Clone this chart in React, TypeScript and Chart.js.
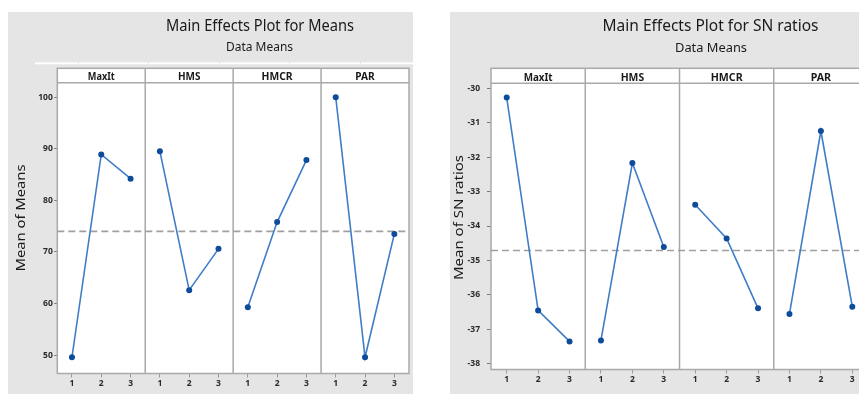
import React, { useEffect, useRef } from "react";
import { Chart, registerables } from "chart.js";

Chart.register(...registerables);

// ---------------- data ----------------
const factors = ["MaxIt", "HMS", "HMCR", "PAR"];
const levels = ["1", "2", "3"];

const meansMaxIt = [49.6, 88.9, 84.2];
const meansHMS = [89.5, 62.6, 70.6];
const meansHMCR = [59.3, 75.8, 87.8];
const meansPAR = [100.0, 49.6, 73.5];
const meansGrand = 74.0;
const meansTicks = [50, 60, 70, 80, 90, 100];

const snMaxIt = [-30.27, -36.45, -37.35];
const snHMS = [-37.32, -32.17, -34.61];
const snHMCR = [-33.38, -34.36, -36.39];
const snPAR = [-36.55, -31.24, -36.34];
const snGrand = -34.71;
const snTicks = [-38, -37, -36, -35, -34, -33, -32, -31, -30];

// ---------------- style ----------------
const LINE = "#3f7dc8";
const DOT = "#0d4b9b";
const FRAME = "#a9a9a9";
const DASH = "#a0a0a0";
const TEXT = "#1a1a1a";
const BG = "#e5e5e5";
const FONT = "'Noto Sans', 'Open Sans', sans-serif";

function fitText(
  ctx: CanvasRenderingContext2D,
  text: string,
  cx: number,
  cy: number,
  font: string,
  width: number,
  rotate = false
) {
  ctx.save();
  ctx.font = font;
  const w = ctx.measureText(text).width || 1;
  ctx.translate(cx, cy);
  if (rotate) ctx.rotate(-Math.PI / 2);
  ctx.scale(width / w, 1);
  ctx.textAlign = "center";
  ctx.textBaseline = "alphabetic";
  ctx.fillStyle = TEXT;
  ctx.fillText(text, 0, 0);
  ctx.restore();
}

const decorPlugin = {
  id: "decor",
  beforeDraw(chart: any, _args: any, o: any) {
    const { ctx, chartArea: a } = chart;
    ctx.save();
    if (o.topLine) {
      ctx.fillStyle = "#ffffff";
      const segs = o.topLine as number[][];
      segs.forEach(([x0, x1]) => ctx.fillRect(x0, o.topLineY, x1 - x0, 2));
    }
    ctx.fillStyle = "#ffffff";
    ctx.fillRect(a.left, o.headerTop, a.right - a.left, a.bottom - o.headerTop);
    ctx.restore();
  },
  beforeDatasetsDraw(chart: any, _args: any, o: any) {
    const { ctx, chartArea: a, scales } = chart;
    const x = scales.x;
    ctx.save();
    ctx.strokeStyle = FRAME;
    ctx.lineWidth = 1.5;
    ctx.strokeRect(a.left, o.headerTop, a.right - a.left, a.bottom - o.headerTop);
    ctx.beginPath();
    ctx.moveTo(a.left, a.top);
    ctx.lineTo(a.right, a.top);
    for (let k = 1; k < factors.length; k++) {
      const px = x.getPixelForValue(k * levels.length);
      ctx.moveTo(px, o.headerTop);
      ctx.lineTo(px, a.bottom);
    }
    ctx.stroke();
    ctx.restore();
    factors.forEach((f, p) => {
      const cx = x.getPixelForValue(p * levels.length + levels.length / 2);
      fitText(ctx, f, cx, o.headerBase, `bold 10.5px ${FONT}`, o.headerW[p]);
    });
    fitText(ctx, o.title, o.titleX, o.titleBase, `16px ${FONT}`, o.titleW);
    fitText(ctx, o.subtitle, o.subX, o.subBase, `12px ${FONT}`, o.subW);
    fitText(ctx, o.yTitle, o.yTitleX, o.yTitleY, `13px ${FONT}`, o.yTitleW, true);
  },
};

type Cfg = {
  left: number;
  top: number;
  width: number;
  height: number;
  series: number[][];
  grand: number;
  ticks: number[];
  yMin: number;
  yMax: number;
  yAxisWidth: number;
  xAxisHeight: number;
  padRight: number;
  padTop: number;
  tickLen: number;
  tickPad: number;
  decor: any;
};

function MainEffects({ cfg }: { cfg: Cfg }) {
  const ref = useRef<HTMLCanvasElement | null>(null);
  useEffect(() => {
    if (!ref.current) return;
    const n = levels.length;
    const xTicks = factors.flatMap((_, p) => levels.map((_, i) => p * n + i + 0.5));
    const datasets: any[] = cfg.series.map((vals, p) => ({
      data: vals.map((v, i) => ({ x: p * n + i + 0.5, y: v })),
      borderColor: LINE,
      borderWidth: 1.6,
      pointRadius: 3,
      pointBackgroundColor: DOT,
      pointBorderColor: DOT,
      pointBorderWidth: 0,
      tension: 0,
      order: 0,
    }));
    datasets.push({
      data: [
        { x: 0, y: cfg.grand },
        { x: factors.length * n, y: cfg.grand },
      ],
      borderColor: DASH,
      borderWidth: 1.6,
      borderDash: [7, 4],
      pointRadius: 0,
      order: 10,
    });
    const tickFont = { family: FONT, size: 8.5, weight: "bold" as const };
    const chart = new Chart(ref.current, {
      type: "line",
      data: { datasets },
      plugins: [decorPlugin as any],
      options: {
        animation: false,
        responsive: false,
        maintainAspectRatio: false,
        events: [],
        layout: { padding: { left: 0, right: cfg.padRight, top: cfg.padTop, bottom: 0 } },
        plugins: {
          legend: { display: false },
          title: { display: false },
          tooltip: { enabled: false },
          decor: cfg.decor,
        } as any,
        scales: {
          x: {
            type: "linear",
            min: 0,
            max: factors.length * n,
            afterBuildTicks: (s: any) => {
              s.ticks = xTicks.map((v) => ({ value: v }));
            },
            afterFit: (s: any) => {
              s.height = cfg.xAxisHeight;
            },
            ticks: {
              autoSkip: false,
              maxRotation: 0,
              padding: 1,
              color: "#2a2a2a",
              font: tickFont,
              callback: (v: any) => levels[Math.round(Number(v) - 0.5) % n],
            },
            grid: { drawOnChartArea: false, tickLength: 4, color: "#9a9a9a", lineWidth: 1 },
            border: { display: false },
          },
          y: {
            type: "linear",
            min: cfg.yMin,
            max: cfg.yMax,
            afterBuildTicks: (s: any) => {
              s.ticks = cfg.ticks.map((v) => ({ value: v }));
            },
            afterFit: (s: any) => {
              s.width = cfg.yAxisWidth;
            },
            ticks: {
              padding: cfg.tickPad,
              color: "#2a2a2a",
              font: tickFont,
              callback: (v: any) => String(v),
            },
            grid: { drawOnChartArea: false, tickLength: cfg.tickLen, color: "#777", lineWidth: 1 },
            border: { display: false },
          },
        },
      },
    });
    return () => chart.destroy();
  }, [cfg]);
  return (
    <div
      style={{
        position: "absolute",
        left: cfg.left,
        top: cfg.top,
        width: cfg.width,
        height: cfg.height,
        background: BG,
      }}
    >
      <canvas ref={ref} width={cfg.width} height={cfg.height} style={{ display: "block" }} />
    </div>
  );
}

const leftCfg: Cfg = {
  left: 8,
  top: 12,
  width: 405,
  height: 382,
  series: [meansMaxIt, meansHMS, meansHMCR, meansPAR],
  grand: meansGrand,
  ticks: meansTicks,
  yMin: 46.45,
  yMax: 102.8,
  yAxisWidth: 49.3,
  xAxisHeight: 20.5,
  padRight: 2,
  padTop: 70.7,
  tickLen: 3,
  tickPad: 1.5,
  decor: {
    headerTop: 56.3,
    headerBase: 67.8,
    headerW: [27, 22.5, 31, 19.5],
    title: "Main Effects Plot for Means",
    titleX: 252,
    titleBase: 18.8,
    titleW: 188,
    subtitle: "Data Means",
    subX: 251.5,
    subBase: 38.5,
    subW: 67,
    yTitle: "Mean of Means",
    yTitleX: 16.5,
    yTitleY: 206,
    yTitleW: 107,
    topLineY: 50.3,
    topLine: [
      [27, 70],
      [71, 140],
      [141, 211],
      [212, 281],
      [282, 352],
      [353, 405],
    ],
  },
};

const rightCfg: Cfg = {
  left: 450,
  top: 12,
  width: 425,
  height: 382,
  series: [snMaxIt, snHMS, snHMCR, snPAR],
  grand: snGrand,
  ticks: snTicks,
  yMin: -38.165,
  yMax: -29.855,
  yAxisWidth: 41,
  xAxisHeight: 24.5,
  padRight: 7,
  padTop: 71.3,
  tickLen: 4,
  tickPad: 7,
  decor: {
    headerTop: 56.3,
    headerBase: 68.5,
    headerW: [29, 23.5, 32, 20.5],
    title: "Main Effects Plot for SN ratios",
    titleX: 260.5,
    titleBase: 18.8,
    titleW: 216,
    subtitle: "Data Means",
    subX: 261,
    subBase: 40,
    subW: 72,
    yTitle: "Mean of SN ratios",
    yTitleX: 12.5,
    yTitleY: 205.5,
    yTitleW: 125,
    topLine: null,
    topLineY: 0,
  },
};

export default function App() {
  return (
    <div
      style={{
        position: "fixed",
        left: 0,
        top: 0,
        width: 859,
        height: 394,
        overflow: "hidden",
        background: "#ffffff",
      }}
    >
      <MainEffects cfg={leftCfg} />
      <MainEffects cfg={rightCfg} />
    </div>
  );
}
